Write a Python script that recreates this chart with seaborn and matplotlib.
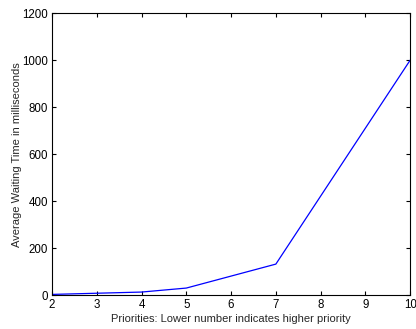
import matplotlib
matplotlib.use("Agg")
import matplotlib.pyplot as plt
import seaborn as sns
import pandas as pd

priorities = [2, 3, 4, 5, 7, 10]
wait_ms = [3, 8, 13, 30, 132, 1000]

sns.set_theme(style="white")
plt.rcParams["font.family"] = ["Liberation Sans", "DejaVu Sans"]

df = pd.DataFrame({"priority": priorities, "wait": wait_ms})

fig = plt.figure(figsize=(4.16, 3.29), dpi=100)
ax = fig.add_axes([0.125, 0.103, 0.861, 0.857])
sns.lineplot(data=df, x="priority", y="wait", ax=ax, color="#0000ff", linewidth=0.9)

ax.set_xlim(2, 10)
ax.set_ylim(0, 1200)
ax.set_xticks(range(2, 11))
ax.set_yticks(range(0, 1201, 200))
ax.set_xlabel("Priorities: Lower number indicates higher priority", fontsize=8, labelpad=2)
ax.set_ylabel("Average Waiting Time in milliseconds", fontsize=8, labelpad=0)
ax.tick_params(direction="in", length=3, width=0.8, labelsize=8.3, colors="black",
               top=True, right=True, bottom=True, left=True, pad=3)
for s in ax.spines.values():
    s.set_visible(True)
    s.set_color("black")
    s.set_linewidth(0.8)

fig.savefig("out.png", dpi=100)
